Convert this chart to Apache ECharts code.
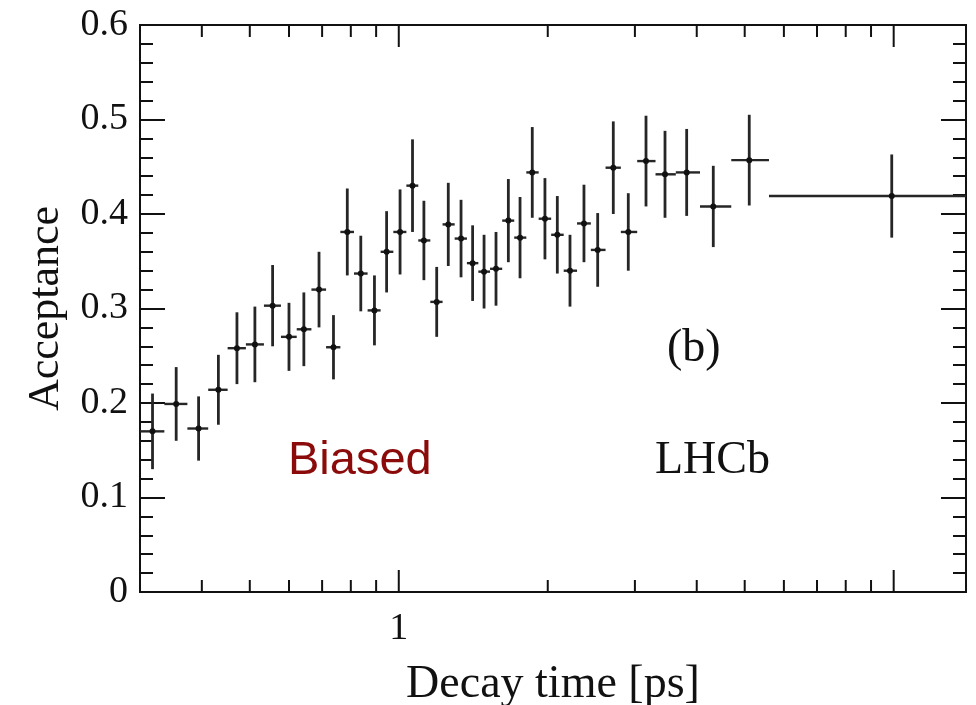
<!DOCTYPE html>
<html>
<head>
<meta charset="utf-8">
<script src="https://cdn.jsdelivr.net/npm/echarts@6/dist/echarts.min.js"></script>
<style>
html,body{margin:0;padding:0;background:#fff;}
#chart{width:976px;height:705px;}
</style>
</head>
<body>
<div id="chart"></div>
<script>
// Decay time bin centres and edges [ps]
const tCenter = [0.318,0.355,0.394,0.432,0.471,0.512,0.556,0.600,0.643,0.690,
                 0.738,0.787,0.838,0.893,0.945,1.006,1.066,1.124,1.193,1.259,
                 1.336,1.410,1.487,1.572,1.665,1.758,1.861,1.974,2.091,2.218,
                 2.367,2.523,2.713,2.909,3.159,3.451,3.817,4.320,5.107,9.91];
const tLow    = [0.300,0.336,0.374,0.412,0.451,0.491,0.534,0.578,0.622,0.666,
                 0.713,0.762,0.812,0.865,0.919,0.975,1.036,1.095,1.158,1.226,
                 1.297,1.373,1.448,1.529,1.618,1.711,1.810,1.917,2.032,2.154,
                 2.292,2.444,2.617,2.810,3.032,3.302,3.629,4.061,4.697,5.598];
const tHigh   = [0.336,0.374,0.412,0.451,0.491,0.534,0.578,0.622,0.666,0.713,
                 0.762,0.812,0.865,0.919,0.975,1.036,1.095,1.158,1.226,1.297,
                 1.373,1.448,1.529,1.618,1.711,1.810,1.917,2.032,2.154,2.292,
                 2.444,2.617,2.810,3.032,3.302,3.629,4.061,4.697,5.598,14.0];
// Acceptance values and uncertainties
const acceptance = [0.170,0.199,0.173,0.214,0.258,0.262,0.303,0.270,0.278,0.320,
                    0.259,0.381,0.337,0.298,0.360,0.381,0.430,0.372,0.307,0.389,
                    0.374,0.348,0.339,0.342,0.393,0.375,0.444,0.395,0.378,0.340,
                    0.390,0.362,0.449,0.381,0.456,0.442,0.444,0.408,0.457,0.419];
const accErr    = [0.040,0.039,0.034,0.037,0.038,0.040,0.043,0.036,0.039,0.040,
                   0.034,0.046,0.040,0.037,0.043,0.045,0.049,0.042,0.037,0.044,
                   0.041,0.040,0.039,0.039,0.044,0.043,0.048,0.043,0.041,0.038,
                   0.041,0.039,0.049,0.041,0.048,0.046,0.046,0.043,0.048,0.044];
// x-axis tick positions (log axis), major ticks flagged
const xMinorTicks = [0.4,0.5,0.6,0.7,0.8,0.9,2,3,4,5,6,7,8,9];
const xMajorTicks = [1,10];
const xLabels = ['1'];

const xMin = 0.3, xMax = 14, yMin = 0, yMax = 0.6;

const ebData = tCenter.map((t,i)=>[t, acceptance[i], tLow[i], tHigh[i], accErr[i]]);
const tickData = xMinorTicks.map(v=>[v,0]).concat(xMajorTicks.map(v=>[v,1]));

const serif = 'Liberation Serif, Times New Roman, serif';
const ink = '#111';
const barColor = '#262626';

const chart = echarts.init(document.getElementById('chart'), null, {renderer:'canvas'});
chart.setOption({
  animation:false,
  backgroundColor:'#fff',
  grid:{left:140, right:10, top:25, bottom:113, containLabel:false, outerBoundsMode:'none',
        show:true, borderColor:ink, borderWidth:2, backgroundColor:'transparent'},
  xAxis:[{
    type:'log', logBase:10, min:xMin, max:xMax,
    name:'Decay time [ps]', nameLocation:'middle', nameGap:70,
    nameTextStyle:{fontFamily:serif, fontSize:46, color:ink},
    axisLine:{show:true, onZero:false, lineStyle:{color:ink, width:2}},
    axisTick:{show:false},
    splitLine:{show:false},
    axisLabel:{show:true, margin:18, fontFamily:serif, fontSize:38, color:ink,
      formatter:function(v){ const s = xLabels.find(l=>Math.abs(parseFloat(l)-v)<1e-6); return s || ''; }}
  }],
  yAxis:[{
    type:'value', min:yMin, max:yMax, interval:0.1, position:'left',
    name:'Acceptance', nameLocation:'middle', nameRotate:90, nameGap:72,
    nameTextStyle:{fontFamily:serif, fontSize:44, color:ink},
    axisLine:{show:true, lineStyle:{color:ink, width:2}},
    axisTick:{show:true, inside:true, length:25, lineStyle:{color:ink, width:2}},
    minorTick:{show:true, splitNumber:5, length:13, lineStyle:{color:ink, width:2}},
    splitLine:{show:false}, minorSplitLine:{show:false},
    axisLabel:{margin:12, fontFamily:serif, fontSize:38, color:ink,
      formatter:function(v){ return v===0 ? '0' : v.toFixed(1); }}
  },{
    type:'value', min:yMin, max:yMax, interval:0.1, position:'right',
    axisLine:{show:true, lineStyle:{color:ink, width:2}},
    axisTick:{show:true, inside:true, length:25, lineStyle:{color:ink, width:2}},
    minorTick:{show:true, splitNumber:5, length:13, lineStyle:{color:ink, width:2}},
    splitLine:{show:false}, minorSplitLine:{show:false},
    axisLabel:{show:false}
  }],
  series:[{
    type:'custom', name:'ticks', xAxisIndex:0, yAxisIndex:0, silent:true,
    data:tickData, encode:{x:0, y:1}, clip:false,
    renderItem:function(params, api){
      const t = api.value(0), major = api.value(1) === 1;
      const len = major ? 22 : 12;
      const b = api.coord([t, yMin]);
      const tp = api.coord([t, yMax]);
      const style = {stroke:ink, lineWidth:2};
      return {type:'group', children:[
        {type:'line', shape:{x1:b[0], y1:b[1], x2:b[0], y2:b[1]-len}, style:style},
        {type:'line', shape:{x1:tp[0], y1:tp[1], x2:tp[0], y2:tp[1]+len}, style:style}
      ]};
    }
  },{
    type:'custom', name:'Acceptance', xAxisIndex:0, yAxisIndex:0,
    data:ebData, encode:{x:0, y:1}, clip:false,
    renderItem:function(params, api){
      const t = api.value(0), y = api.value(1), lo = api.value(2), hi = api.value(3), e = api.value(4);
      const c = api.coord([t, y]);
      const l = api.coord([lo, y]);
      const r = api.coord([hi, y]);
      const top = api.coord([t, y+e]);
      const bot = api.coord([t, y-e]);
      return {type:'group', children:[
        {type:'line', shape:{x1:l[0], y1:c[1], x2:r[0], y2:c[1]}, style:{stroke:barColor, lineWidth:2.4}},
        {type:'line', shape:{x1:c[0], y1:top[1], x2:c[0], y2:bot[1]}, style:{stroke:barColor, lineWidth:2.8}},
        {type:'circle', shape:{cx:c[0], cy:c[1], r:3}, style:{fill:'#111'}}
      ]};
    }
  }],
  graphic:[
    {type:'text', left:288, top:438, style:{text:'Biased', font:'47px "Liberation Sans", Arial, sans-serif', fill:'#8b0b0b'}},
    {type:'text', left:655, top:438, style:{text:'LHCb', font:'46px "Liberation Serif", "Times New Roman", serif', fill:ink}},
    {type:'text', left:667, top:326, style:{text:'(b)', font:'46px "Liberation Serif", "Times New Roman", serif', fill:ink}}
  ]
});
</script>
</body>
</html>
